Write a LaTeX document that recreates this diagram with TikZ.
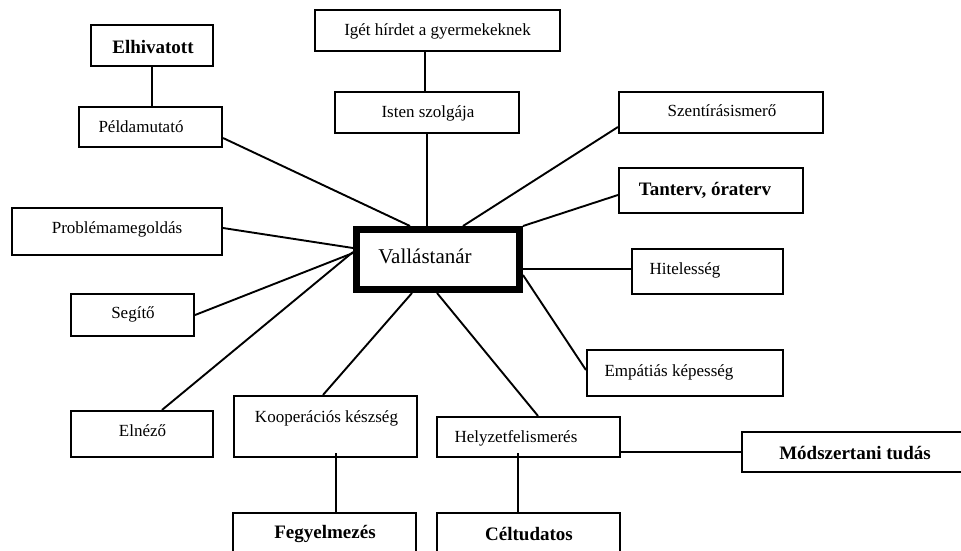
\documentclass[tikz,border=0pt]{standalone}
\usepackage{fontspec}
\setmainfont{Liberation Serif}
\begin{document}
\begin{tikzpicture}[x=1pt,y=-1pt,
  box/.style 2 args={draw, line width=2.1pt, minimum width=#1, minimum height=#2, inner sep=0pt},
  hub/.style={draw, line width=7pt, minimum width=163pt, minimum height=60pt, inner sep=0pt},
  lbl/.style={inner sep=0pt, font=\fontsize{17}{20}\selectfont},
  blbl/.style={inner sep=0pt, font=\fontsize{19}{22}\selectfont\bfseries},
  hlbl/.style={inner sep=0pt, font=\fontsize{21}{24}\selectfont},
  link/.style={line width=1.9pt}]
\clip (0,0) rectangle (961,550);
\fill[white] (0,0) rectangle (961,550);

% central node
\node[hub] (c) at (438,259.5) {};
\node[hlbl] (c-t) at (425,256) {Vallástanár};

% surrounding boxes
\node[box={122pt}{41pt}] (elh) at (152,45.5) {};
\node[box={143pt}{40pt}] (pel) at (150.5,127) {};
\node[box={245pt}{41pt}] (ige) at (437.5,30.5) {};
\node[box={184pt}{41pt}] (isten) at (427,112.5) {};
\node[box={210pt}{47pt}] (prob) at (117,231.5) {};
\node[box={204pt}{41pt}] (szent) at (721,112.5) {};
\node[box={184pt}{45pt}] (tant) at (711,190.5) {};
\node[box={151pt}{45pt}] (hit) at (707.5,271.5) {};
\node[box={196pt}{46pt}] (emp) at (685,373) {};
\node[box={183pt}{40pt}] (hely) at (528.5,437) {};
\node[box={233pt}{40pt}] (mod) at (858.5,452) {};
\node[box={183pt}{47pt}] (cel) at (528.5,536.5) {};
\node[box={183pt}{47pt}] (fegy) at (324.5,536.5) {};
\node[box={183pt}{61pt}] (koop) at (325.5,426.5) {};
\node[box={142pt}{46pt}] (eln) at (142,434) {};
\node[box={123pt}{42pt}] (seg) at (132.5,315) {};

% labels
\node[blbl] (elh-t) at (153,47) {Elhivatott};
\node[lbl] (pel-t) at (141,127) {Példamutató};
\node[lbl] (ige-t) at (437.5,31) {Igét hírdet a gyermekeknek};
\node[lbl] (isten-t) at (428,113) {Isten szolgája};
\node[lbl] (prob-t) at (117,229) {Problémamegoldás};
\node[lbl] (szent-t) at (722,111) {Szentírásismerő};
\node[blbl] (tant-t) at (705,190) {Tanterv, óraterv};
\node[lbl] (hit-t) at (685,270) {Hitelesség};
\node[lbl] (emp-t) at (669,372) {Empátiás képesség};
\node[lbl] (hely-t) at (516,438) {Helyzetfelismerés};
\node[blbl] (mod-t) at (855,453) {Módszertani tudás};
\node[blbl] (cel-t) at (529,534) {Céltudatos};
\node[blbl] (fegy-t) at (325,534) {Fegyelmezés};
\node[lbl] (koop-t) at (326.5,418) {Kooperációs készség};
\node[lbl] (eln-t) at (142.5,431) {Elnéző};
\node[lbl] (seg-t) at (133,314) {Segítő};

% connectors
\draw[link] (elh.south) -- (elh.south |- pel.north);
\draw[link] ([xshift=-12.5pt]ige.south) -- ([xshift=-12.5pt]ige.south |- isten.north);
\draw[link] (isten.south) -- (isten.south |- c.north);
\draw[link] ([yshift=-11pt]pel.east) -- ([xshift=57pt]c.north west);
\draw[link] ([yshift=3.5pt]prob.east) -- ([yshift=-22pt]c.north west);
\draw[link] (seg.east) -- ([yshift=-27pt]c.north west);
\draw[link] ([xshift=20pt]eln.north) -- ([yshift=-26pt]c.north west);
\draw[link] ([yshift=-14.5pt]szent.west) -- ([xshift=110pt]c.north west);
\draw[link] ([yshift=-4.5pt]tant.west) -- (c.north east);
\draw[link] ([yshift=2.5pt]hit.west) -- ([yshift=2.5pt]hit.west -| c.east);
\draw[link] ([yshift=3pt]emp.west) -- ([yshift=-49pt]c.north east);
\draw[link] ([xshift=-2.5pt]koop.north) -- ([xshift=59pt]c.south west);
\draw[link] ([xshift=9.5pt]hely.north) -- ([xshift=84pt]c.south west);
\draw[link] (hely.east |- mod.west) -- (mod.west);
\draw[link] ([xshift=-10.5pt]cel.north) -- ([xshift=-10.5pt,yshift=5pt]cel.north |- hely.south);
\draw[link] ([xshift=11.5pt]fegy.north) -- ([xshift=11.5pt,yshift=5pt]fegy.north |- koop.south);
\end{tikzpicture}
\end{document}
